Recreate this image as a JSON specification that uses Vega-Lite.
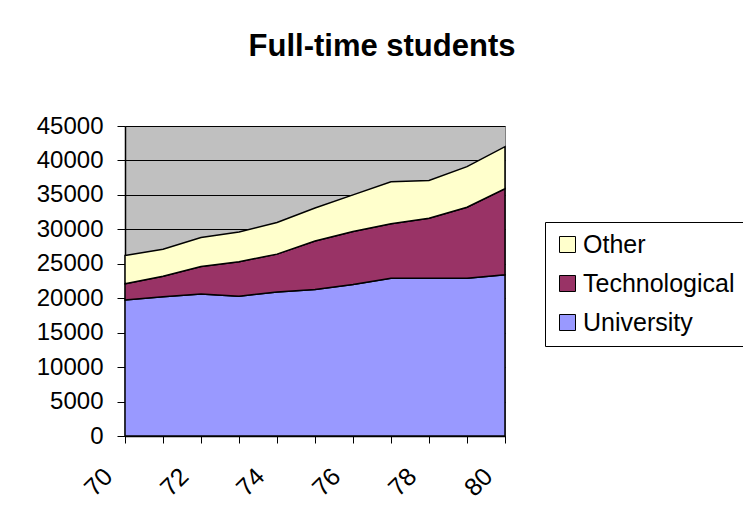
{
  "$schema": "https://vega.github.io/schema/vega-lite/v6.json",
  "autosize": {"type": "none"},
  "width": 380,
  "height": 310,
  "padding": {"left": 125, "top": 126, "right": 238, "bottom": 88},
  "background": "white",
  "title": {
    "text": "Full-time students",
    "font": "Liberation Sans",
    "fontSize": 31,
    "fontWeight": "bold",
    "color": "black",
    "anchor": "middle",
    "dx": 67,
    "baseline": "alphabetic",
    "offset": 27
  },
  "config": {
    "view": {"fill": "#C0C0C0", "stroke": "#808080"},
    "font": "Liberation Sans"
  },
  "data": {
    "values": [
      {"year": 70, "type": "University", "students": 19750},
      {"year": 71, "type": "University", "students": 20200},
      {"year": 72, "type": "University", "students": 20600},
      {"year": 73, "type": "University", "students": 20300},
      {"year": 74, "type": "University", "students": 20900},
      {"year": 75, "type": "University", "students": 21250},
      {"year": 76, "type": "University", "students": 22000},
      {"year": 77, "type": "University", "students": 22900},
      {"year": 78, "type": "University", "students": 22900},
      {"year": 79, "type": "University", "students": 22900},
      {"year": 80, "type": "University", "students": 23400},
      {"year": 70, "type": "Technological", "students": 2350},
      {"year": 71, "type": "Technological", "students": 3000},
      {"year": 72, "type": "Technological", "students": 4000},
      {"year": 73, "type": "Technological", "students": 5000},
      {"year": 74, "type": "Technological", "students": 5500},
      {"year": 75, "type": "Technological", "students": 7050},
      {"year": 76, "type": "Technological", "students": 7700},
      {"year": 77, "type": "Technological", "students": 7900},
      {"year": 78, "type": "Technological", "students": 8700},
      {"year": 79, "type": "Technological", "students": 10300},
      {"year": 80, "type": "Technological", "students": 12500},
      {"year": 70, "type": "Other", "students": 4100},
      {"year": 71, "type": "Other", "students": 3900},
      {"year": 72, "type": "Other", "students": 4200},
      {"year": 73, "type": "Other", "students": 4300},
      {"year": 74, "type": "Other", "students": 4600},
      {"year": 75, "type": "Other", "students": 4800},
      {"year": 76, "type": "Other", "students": 5300},
      {"year": 77, "type": "Other", "students": 6100},
      {"year": 78, "type": "Other", "students": 5500},
      {"year": 79, "type": "Other", "students": 5900},
      {"year": 80, "type": "Other", "students": 6100}
    ]
  },
  "mark": {"type": "area", "stroke": "black", "strokeWidth": 1.5, "opacity": 1, "fillOpacity": 1},
  "encoding": {
    "x": {
      "field": "year",
      "type": "quantitative",
      "scale": {"domain": [70, 80], "nice": false, "zero": false},
      "axis": {
        "title": null,
        "values": [70, 71, 72, 73, 74, 75, 76, 77, 78, 79, 80],
        "labelExpr": "datum.value % 2 == 0 ? datum.label : ''",
        "labelAngle": -45,
        "labelAlign": "right",
        "labelBaseline": "middle",
        "labelPadding": 29,
        "labelOffset": -17,
        "labelFontSize": 25,
        "labelColor": "black",
        "labelFont": "Liberation Sans",
        "tickColor": "black",
        "tickSize": 7,
        "domainColor": "black",
        "domainWidth": 1.5,
        "grid": false,
        "labelOverlap": false,
        "labelFlush": false
      }
    },
    "y": {
      "field": "students",
      "type": "quantitative",
      "stack": "zero",
      "scale": {"domain": [0, 45000], "nice": false},
      "axis": {
        "title": null,
        "values": [0, 5000, 10000, 15000, 20000, 25000, 30000, 35000, 40000, 45000],
        "format": "d",
        "labelFontSize": 24,
        "labelColor": "black",
        "labelFont": "Liberation Sans",
        "labelPadding": 14,
        "tickColor": "black",
        "tickSize": 8,
        "domainColor": "black",
        "domainWidth": 1.5,
        "grid": true,
        "gridColor": "black",
        "gridOpacity": 1,
        "gridWidth": 1,
        "labelOverlap": false
      }
    },
    "color": {
      "field": "type",
      "type": "nominal",
      "scale": {
        "domain": ["Other", "Technological", "University"],
        "range": ["#FFFFCC", "#993366", "#9999FF"]
      },
      "legend": {
        "title": null,
        "orient": "none",
        "legendX": 420,
        "legendY": 96,
        "direction": "vertical",
        "symbolType": "square",
        "symbolSize": 256,
        "symbolStrokeColor": "black",
        "symbolStrokeWidth": 1,
        "symbolOpacity": 1,
        "labelFontSize": 25,
        "labelColor": "black",
        "labelFont": "Liberation Sans",
        "labelOffset": 3,
        "rowPadding": 13,
        "padding": 10,
        "strokeColor": "black",
        "fillColor": "white"
      }
    },
    "order": {"field": "type", "sort": "descending"}
  }
}
